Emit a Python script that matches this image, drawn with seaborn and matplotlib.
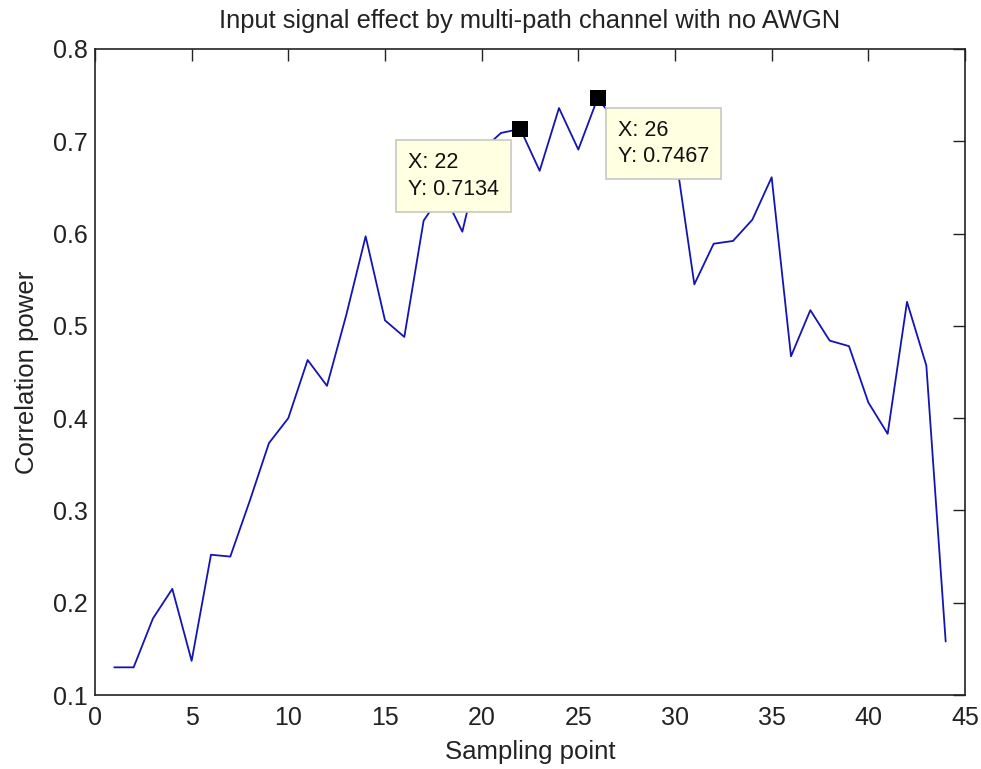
import matplotlib
matplotlib.use("Agg")
import matplotlib.pyplot as plt
import seaborn as sns
import pandas as pd

sampling_point = list(range(1, 45))
correlation_power = [
    0.130, 0.130, 0.183, 0.215, 0.137, 0.252, 0.250, 0.310, 0.373, 0.400,
    0.463, 0.435, 0.512, 0.597, 0.506, 0.488, 0.614, 0.645, 0.602, 0.690,
    0.709, 0.7134, 0.668, 0.736, 0.691, 0.7467, 0.720, 0.735, 0.705, 0.690,
    0.545, 0.589, 0.592, 0.615, 0.661, 0.467, 0.517, 0.484, 0.478, 0.417,
    0.383, 0.526, 0.457, 0.158,
]
tip_x = [22, 26]
tip_y = [0.7134, 0.7467]
x_ticks = [0, 5, 10, 15, 20, 25, 30, 35, 40, 45]
y_ticks = [0.1, 0.2, 0.3, 0.4, 0.5, 0.6, 0.7, 0.8]

df = pd.DataFrame({"Sampling point": sampling_point,
                   "Correlation power": correlation_power})

sns.set_style("white")
plt.rcParams["font.family"] = ["Liberation Sans", "DejaVu Sans"]

fig = plt.figure(figsize=(9.81, 7.69), dpi=100)
ax = fig.add_axes([0.0968, 0.0962, 0.8869, 0.8401])

sns.lineplot(data=df, x="Sampling point", y="Correlation power", ax=ax,
             color="#1414b4", linewidth=1.3)

ax.set_xlim(0, 45)
ax.set_ylim(0.1, 0.8)
ax.set_xticks(x_ticks)
ax.set_yticks(y_ticks)
ax.set_xticklabels([str(t) for t in x_ticks])
ax.set_yticklabels([f"{t:.1f}" for t in y_ticks])
ax.tick_params(direction="in", length=8.5, width=1, top=True, right=True,
               labelsize=18, colors="#222222", pad=5)
ax.tick_params(axis="x", pad=8)
for s in ax.spines.values():
    s.set_color("#222222")
    s.set_linewidth(1.2)

ax.set_xlabel("Sampling point", fontsize=18.5, color="#222222", labelpad=7)
ax.set_ylabel("Correlation power", fontsize=18.5, color="#222222", labelpad=10)
ax.set_title("Input signal effect by multi-path channel with no AWGN",
             fontsize=18.4, color="#222222", pad=15)

# data tips
ax.scatter(tip_x, tip_y, marker="s", s=130, color="black", linewidth=0,
           zorder=7)
offsets = [(-21.5, -23, "right"), (20, -21.5, "left")]
for (tx, ty), (dx, dy, ha) in zip(zip(tip_x, tip_y), offsets):
    ax.annotate(f"X: {tx}\nY: {ty:.4f}", xy=(tx, ty), xytext=(dx, dy),
                textcoords="offset pixels", ha=ha, va="top",
                multialignment="left",
                fontsize=15.5, color="#111111", linespacing=1.35, zorder=6,
                bbox=dict(boxstyle="square,pad=0.56", fc="#ffffe1",
                          ec="#c8c8c0", lw=1.2))

fig.savefig("out.png", dpi=100)
